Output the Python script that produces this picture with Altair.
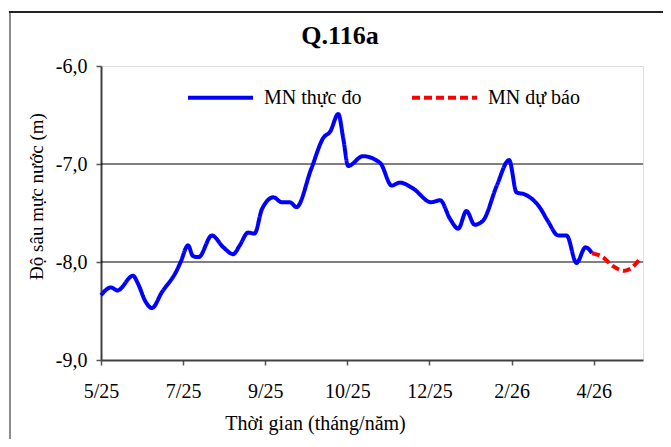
import altair as alt
import pandas as pd

# ---- data ----
x_labels = ["5/25", "7/25", "9/25", "10/25", "12/25", "2/26", "4/26"]
y_ticks = [-9.0, -8.0, -7.0, -6.0]
grid_values = [-8.0, -7.0]
chart_title = ["Q.116a"]

obs_t = [0.00, 0.12, 0.20, 0.39, 0.45, 0.54, 0.62, 0.74, 0.92, 0.97,
         1.06, 1.12, 1.19, 1.35, 1.49, 1.61, 1.69, 1.79, 1.87, 1.96,
         2.10, 2.20, 2.30, 2.38, 2.56, 2.71, 2.79, 2.89, 2.95, 3.01,
         3.19, 3.40, 3.54, 3.64, 3.80, 4.02, 4.13, 4.25, 4.35, 4.45,
         4.55, 4.65, 4.82, 4.97, 5.06, 5.16, 5.34, 5.44, 5.57, 5.67,
         5.79, 5.90, 5.98]
obs_v = [-8.34, -8.26, -8.29, -8.14, -8.22, -8.40, -8.47, -8.31, -8.09, -8.00,
         -7.83, -7.94, -7.95, -7.73, -7.85, -7.92, -7.83, -7.70, -7.71, -7.46,
         -7.34, -7.39, -7.39, -7.44, -7.05, -6.73, -6.67, -6.49, -6.74, -7.02,
         -6.92, -6.99, -7.22, -7.19, -7.25, -7.39, -7.37, -7.56, -7.66, -7.48,
         -7.62, -7.58, -7.22, -6.96, -7.29, -7.31, -7.44, -7.58, -7.73, -7.73,
         -8.01, -7.85, -7.91]

fc_t = [5.98, 6.11, 6.23, 6.38, 6.46, 6.56]
fc_v = [-7.91, -7.95, -8.04, -8.09, -8.06, -7.97]

series_names = ["MN thực đo", "MN dự báo"]

df = pd.concat([
    pd.DataFrame({"t": obs_t, "v": obs_v, "s": series_names[0]}),
    pd.DataFrame({"t": fc_t, "v": fc_v, "s": series_names[1]}),
], ignore_index=True)

FONT = "Liberation Serif"
label_js = "[" + ",".join("'%s'" % l for l in x_labels) + "]"
X_SCALE = alt.Scale(domain=[0, 6.6], nice=False, zero=False)
Y_SCALE = alt.Scale(domain=[-9, -6], nice=False, zero=False)

x_enc = alt.X(
    "t:Q",
    scale=X_SCALE,
    axis=alt.Axis(
        values=list(range(len(x_labels))),
        labelExpr=label_js + "[datum.value]",
        labelFlush=False,
        title="Thời gian (tháng/năm)",
        grid=False,
        tickSize=5,
        labelPadding=16,
        titleX=214,
        titleY=53,
        titleFontSize=20,
        titleFontWeight="normal",
        titleFont=FONT,
        labelFont=FONT,
        labelFontSize=20,
        labelColor="black",
        titleColor="black",
        domainColor="#404040",
        domainWidth=2,
        tickColor="#555555",
        tickWidth=1.5,
    ),
)

y_enc = alt.Y(
    "v:Q",
    scale=Y_SCALE,
    axis=alt.Axis(
        values=y_ticks,
        labelExpr="'-' + replace(format(abs(datum.value), '.1f'), '.', ',')",
        title="Độ sâu mực nước (m)",
        grid=False,
        tickSize=5,
        labelPadding=9,
        titleX=-55,
        titleY=130,
        titleFontSize=19,
        titleFontWeight="normal",
        titleFont=FONT,
        labelFont=FONT,
        labelFontSize=20,
        labelColor="black",
        titleColor="black",
        domainColor="#404040",
        domainWidth=2,
        tickColor="#555555",
        tickWidth=1.5,
    ),
)

grid = alt.Chart(pd.DataFrame({"g": grid_values})).mark_rule(
    color="black", strokeWidth=1
).encode(y=alt.Y("g:Q", scale=Y_SCALE))

lines = alt.Chart(df).mark_line(
    strokeWidth=4, interpolate="monotone"
).encode(
    x=x_enc,
    y=y_enc,
    color=alt.Color(
        "s:N",
        scale=alt.Scale(domain=series_names, range=["#0000FF", "#FF0000"]),
        legend=alt.Legend(
            title=None,
            orient="none",
            legendX=85,
            legendY=-3,
            direction="horizontal",
            symbolType="stroke",
            symbolSize=4225,
            symbolStrokeWidth=4,
            labelFont=FONT,
            labelFontSize=20,
            labelColor="black",
            labelOffset=9,
            columnPadding=42,
            padding=0,
            labelLimit=300,
        ),
    ),
    strokeDash=alt.StrokeDash(
        "s:N",
        scale=alt.Scale(domain=series_names, range=[[1, 0], [8, 4]]),
        legend=None,
    ),
    order="t:Q",
)

title_mark = alt.Chart(pd.DataFrame({"title": chart_title})).mark_text(
    font=FONT, fontSize=26, fontWeight="bold", color="black",
    align="center", baseline="alphabetic"
).encode(text="title:N", x=alt.value(239), y=alt.value(-22))

# outer chart frame (decorative line segments)
frame_v = alt.Chart(pd.DataFrame({"a": [0]})).mark_rule(
    color="#8c8c8c", strokeWidth=2
).encode(x=alt.value(-91), x2=alt.value(-91), y=alt.value(-54), y2=alt.value(380))
frame_h = alt.Chart(pd.DataFrame({"b": [1]})).mark_rule(
    color="#222222", strokeWidth=2
).encode(x=alt.value(-92), x2=alt.value(562), y=alt.value(-54), y2=alt.value(-54))

chart = alt.layer(grid, lines, title_mark, frame_v, frame_h).properties(
    width=542,
    height=294,
    autosize=alt.AutoSizeParams(type="none"),
    padding={"left": 93, "top": 58, "right": 20, "bottom": 79},
).configure_view(
    stroke="#8c8c8c", strokeWidth=2
).configure(background="white")

chart.save("out.html", embed_options={"renderer": "svg", "actions": False})
